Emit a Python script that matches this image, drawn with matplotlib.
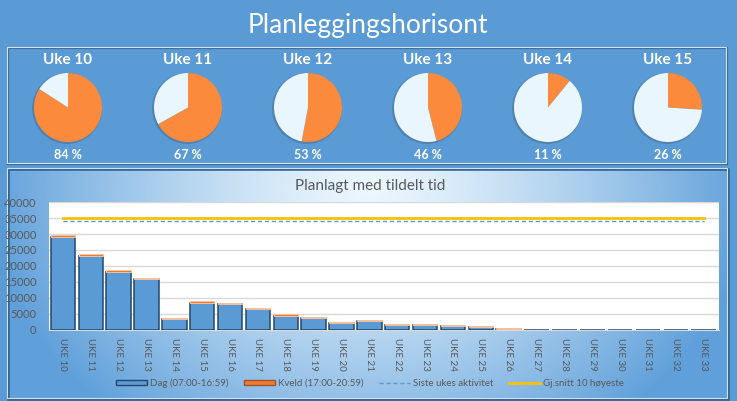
import numpy as np
import matplotlib
matplotlib.use("Agg")
import matplotlib.pyplot as plt
from matplotlib.patches import Rectangle, Patch, Ellipse
from matplotlib.lines import Line2D

# ---------------- data ----------------
pie_weeks = ["Uke 10", "Uke 11", "Uke 12", "Uke 13", "Uke 14", "Uke 15"]
pie_pct = [84, 67, 53, 46, 11, 26]

weeks = ["UKE 10", "UKE 11", "UKE 12", "UKE 13", "UKE 14", "UKE 15", "UKE 16",
         "UKE 17", "UKE 18", "UKE 19", "UKE 20", "UKE 21", "UKE 22", "UKE 23",
         "UKE 24", "UKE 25", "UKE 26", "UKE 27", "UKE 28", "UKE 29", "UKE 30",
         "UKE 31", "UKE 32", "UKE 33"]
dag = [29200, 23100, 18150, 15900, 3300, 8500, 8050, 6500, 4250, 3600, 2100,
       2700, 1500, 1500, 1100, 800, 200, 0, 0, 0, 0, 0, 0, 0]
kveld = [600, 650, 750, 300, 500, 500, 500, 500, 600, 500, 500,
         500, 500, 500, 500, 450, 400, 150, 150, 150, 150, 150, 150, 150]
siste_ukes = [34100] * len(weeks)
gj_snitt = [34900] * len(weeks)
yticks = [0, 5000, 10000, 15000, 20000, 25000, 30000, 35000, 40000]

# ---------------- layout helpers ----------------
W, H = 737, 401
fig = plt.figure(figsize=(W / 100, H / 100), dpi=100)
plt.rcParams['font.family'] = ['Lato', 'DejaVu Sans']

def px_axes(x0, y0, x1, y1, **kw):
    return fig.add_axes([x0 / W, 1 - y1 / H, (x1 - x0) / W, (y1 - y0) / H], **kw)

BLUE = "#5B9BD5"
bg = px_axes(0, 0, W, H)
bg.set_xlim(0, W)
bg.set_ylim(H, 0)
bg.axis("off")
bg.add_patch(Rectangle((0, 0), W, H, facecolor=BLUE, edgecolor="none"))

# top panel frame
bg.add_patch(Rectangle((8, 48), 719, 116, facecolor="none", edgecolor="#2F5F8F", lw=1.6))
bg.add_patch(Rectangle((7, 47), 719, 116, facecolor="none", edgecolor="#CFE3F4", lw=0.9))

# bottom panel gradient
yy, xx = np.mgrid[0:230, 0:720]
t = np.sqrt(((xx - 360) / 380.0) ** 2 + ((yy - 20) / 300.0) ** 2)
t = np.clip(t, 0, 1) ** 1.3
c0 = np.array([236, 247, 254]) / 255.0
c1 = np.array([96, 160, 218]) / 255.0
img = c0[None, None, :] * (1 - t[..., None]) + c1[None, None, :] * t[..., None]
bg.imshow(img, extent=(8, 728, 399, 169), aspect="auto", zorder=1)
bg.add_patch(Rectangle((8, 169), 720, 230, facecolor="none", edgecolor="#2F5F8F", lw=1.8, zorder=2))
bg.add_patch(Rectangle((7, 168), 720, 230, facecolor="none", edgecolor="#CFE3F4", lw=0.8, zorder=2))

# main title
bg.text(368, 25, "Planleggingshorisont", color="white", fontsize=19,
        ha="center", va="center", zorder=3)

# ---------------- pies ----------------
pie_cx = [68, 188, 308, 428, 548, 668]
for i, (lab, p) in enumerate(zip(pie_weeks, pie_pct)):
    cx = pie_cx[i]
    bg.text(cx, 60, lab, color="white", fontsize=11, fontweight="bold",
            ha="center", va="center", zorder=3)
    bg.text(cx, 155, f"{p} %", color="white", fontsize=9, fontweight="bold",
            ha="center", va="center", zorder=3)
    bg.add_patch(Ellipse((cx - 1, 108.5), 70, 71, facecolor="#4A6E93", edgecolor="none",
                         alpha=0.55, zorder=2))
    pax = px_axes(cx - 34, 73, cx + 34, 142)
    pax.pie([p, 100 - p], colors=["#FB8A3C", "#EAF6FD"], startangle=90,
            counterclock=False, wedgeprops=dict(edgecolor="none"))
    pax.set_xlim(-1.0, 1.0)
    pax.set_ylim(-1.0, 1.0)
    pax.set_aspect("auto")

# ---------------- bar chart ----------------
bg.text(370, 186, "Planlagt med tildelt tid", color="#595959", fontsize=11,
        ha="center", va="center", zorder=3)

ax = px_axes(49, 202, 719, 330)
ax.set_facecolor("white")
x = np.arange(len(weeks))
ax.bar(x, dag, width=0.88, color=BLUE, edgecolor="#23476B", linewidth=1.1, zorder=3)
ax.bar(x, kveld, bottom=dag, width=0.88, color="#ED7D31", edgecolor="#F6C2A0",
       linewidth=0.7, zorder=3)
ax.plot(x, siste_ukes, color=BLUE, lw=1.0, dashes=(3, 2), zorder=4)
ax.plot(x, gj_snitt, color="#FFC000", lw=2.0, zorder=4)

ax.set_xlim(-0.5, len(weeks) - 0.45)
ax.set_ylim(0, 40000)
ax.set_yticks(yticks)
ax.set_yticklabels([str(v) for v in yticks], fontsize=8, color="#595959")
ax.set_xticks(x)
ax.set_xticklabels(weeks, rotation=270, fontsize=7, color="#595959")
ax.tick_params(axis="both", length=0)
ax.tick_params(axis="y", pad=9)
ax.tick_params(axis="x", pad=6)
ax.grid(axis="y", color="#D9D9D9", lw=1, zorder=0)
ax.set_axisbelow(True)
for s in ["top", "right", "left"]:
    ax.spines[s].set_visible(False)
ax.spines["bottom"].set_color("#D9D9D9")

handles = [
    Patch(facecolor=BLUE, edgecolor="#23476B", linewidth=1.0),
    Patch(facecolor="#ED7D31", edgecolor="#A0522D", linewidth=1.0),
    Line2D([0], [0], color=BLUE, lw=1.0, dashes=(3, 2)),
    Line2D([0], [0], color="#FFC000", lw=2.0),
]
labels = ["Dag (07:00-16:59)", "Kveld (17:00-20:59)", "Siste ukes aktivitet",
          "Gj.snitt 10 høyeste"]
leg = fig.legend(handles, labels, loc="center", bbox_to_anchor=(370 / W, 1 - 383 / H),
                 ncol=4, frameon=False, fontsize=7, handlelength=3.2, handleheight=0.45,
                 handletextpad=0.3, columnspacing=1.6, labelcolor="#595959")

fig.savefig("out.png", dpi=100)
